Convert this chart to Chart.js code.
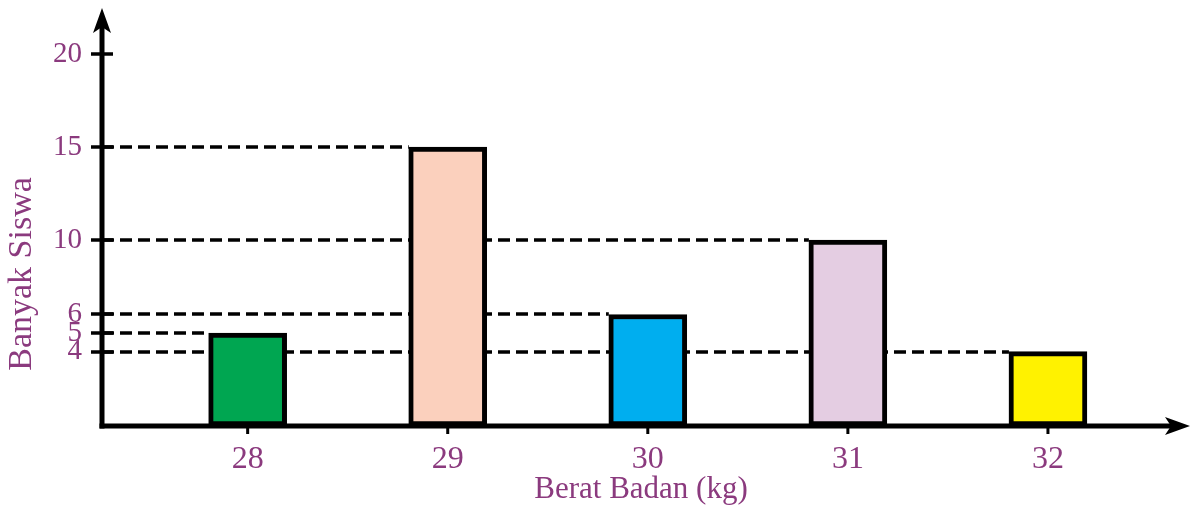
<!DOCTYPE html>
<html>
<head>
<meta charset="utf-8">
<script src="https://cdn.jsdelivr.net/npm/chart.js@4/dist/chart.umd.min.js"></script>
<style>
  html, body { margin: 0; padding: 0; background: #ffffff; }
  #wrap { width: 1191px; height: 510px; }
</style>
</head>
<body>
<div id="wrap"><canvas id="c" width="1191" height="510"></canvas></div>
<script>
// ---- data ----
const categories = [28, 29, 30, 31, 32];
const counts = [5, 15, 6, 10, 4];
const yTickValues = [4, 5, 6, 10, 15, 20];
const xTitle = 'Berat Badan (kg)';
const yTitle = 'Banyak Siswa';

// ---- styles ----
const barColors = ['#00a651', '#fbd0bd', '#00aeef', '#e4cde2', '#fff200'];
const purple = '#8b3a7e';
const BAR_W = 78;
const serif = '"Liberation Serif", "Times New Roman", serif';

const guidePlugin = {
  id: 'guides',
  beforeDatasetsDraw(chart) {
    const { ctx, chartArea, scales } = chart;
    const xs = scales.x, ys = scales.y;
    ctx.save();
    ctx.strokeStyle = '#000';
    ctx.lineWidth = 3.5;
    ctx.setLineDash([12, 6]);
    categories.forEach((c, i) => {
      const y = Math.round(ys.getPixelForValue(counts[i]));
      const x2 = xs.getPixelForValue(c) - BAR_W / 2;
      ctx.beginPath();
      ctx.moveTo(chartArea.left, y);
      ctx.lineTo(x2, y);
      ctx.stroke();
    });
    ctx.restore();
  },
  afterDatasetsDraw(chart) {
    const { ctx, chartArea, scales } = chart;
    const xs = scales.x, ys = scales.y;
    const ax = chartArea.left, ay = chartArea.bottom;
    ctx.save();
    ctx.strokeStyle = '#000';
    ctx.fillStyle = '#000';
    ctx.lineWidth = 5;
    ctx.setLineDash([]);
    // y axis
    ctx.beginPath();
    ctx.moveTo(ax, ay + 2.5);
    ctx.lineTo(ax, chartArea.top + 14);
    ctx.stroke();
    // x axis
    ctx.beginPath();
    ctx.moveTo(ax - 2.5, ay);
    ctx.lineTo(chartArea.right - 4, ay);
    ctx.stroke();
    // arrow heads
    const tipY = chartArea.top - 4;
    ctx.beginPath();
    ctx.moveTo(ax, tipY);
    ctx.lineTo(ax + 9, tipY + 25);
    ctx.lineTo(ax, tipY + 19);
    ctx.lineTo(ax - 9, tipY + 25);
    ctx.closePath();
    ctx.fill();
    const tipX = chartArea.right + 10;
    ctx.beginPath();
    ctx.moveTo(tipX, ay);
    ctx.lineTo(tipX - 25, ay - 9);
    ctx.lineTo(tipX - 19, ay);
    ctx.lineTo(tipX - 25, ay + 9);
    ctx.closePath();
    ctx.fill();
    // y tick marks
    ctx.lineWidth = 3.5;
    yTickValues.forEach(v => {
      const y = Math.round(ys.getPixelForValue(v));
      ctx.beginPath();
      ctx.moveTo(ax - 11, y);
      ctx.lineTo(ax + 11, y);
      ctx.stroke();
    });
    // x tick marks
    ctx.lineWidth = 3;
    categories.forEach(c => {
      const x = xs.getPixelForValue(c);
      ctx.beginPath();
      ctx.moveTo(x, ay);
      ctx.lineTo(x, ay + 8);
      ctx.stroke();
    });
    ctx.restore();
  }
};

new Chart(document.getElementById('c'), {
  type: 'bar',
  data: {
    datasets: [{
      data: categories.map((c, i) => ({ x: c, y: counts[i] })),
      backgroundColor: barColors,
      borderColor: '#000',
      borderWidth: 5,
      borderSkipped: false,
      barThickness: BAR_W
    }]
  },
  options: {
    responsive: false,
    animation: false,
    events: [],
    layout: { padding: { top: 12, right: 11, bottom: 0, left: 0 } },
    plugins: { legend: { display: false }, tooltip: { enabled: false } },
    scales: {
      x: {
        type: 'linear',
        offset: false,
        min: 27.272,
        max: 32.66,
        grid: { display: false, drawTicks: false, offset: false },
        border: { display: false },
        afterBuildTicks: s => { s.ticks = categories.map(v => ({ value: v })); },
        afterFit: s => { s.height = 84; s.paddingLeft = 0; s.paddingRight = 0; },
        ticks: {
          autoSkip: false,
          maxRotation: 0,
          padding: 14,
          color: purple,
          font: { family: serif, size: 32 }
        },
        title: {
          display: true,
          text: xTitle,
          color: purple,
          padding: { top: 0, bottom: 2 },
          font: { family: serif, size: 31 }
        }
      },
      y: {
        type: 'linear',
        min: 0,
        max: 22.27,
        grid: { display: false, drawTicks: false },
        border: { display: false },
        afterBuildTicks: s => { s.ticks = yTickValues.map(v => ({ value: v })); },
        afterFit: s => {
          s.width = 102; s.paddingTop = 0; s.paddingBottom = 0;
          if (!s._titleShifted) {
            const orig = s.drawTitle;
            s.drawTitle = function () {
              const ctx = this.ctx;
              ctx.save();
              ctx.translate(0, 55);
              orig.apply(this, arguments);
              ctx.restore();
            };
            s._titleShifted = true;
          }
        },
        ticks: {
          autoSkip: false,
          padding: 20,
          color: purple,
          font: { family: serif, size: 29 }
        },
        title: {
          display: true,
          text: yTitle,
          color: purple,
          padding: { top: 2, bottom: 0 },
          font: { family: serif, size: 34 }
        }
      }
    }
  },
  plugins: [guidePlugin]
});
</script>
</body>
</html>
